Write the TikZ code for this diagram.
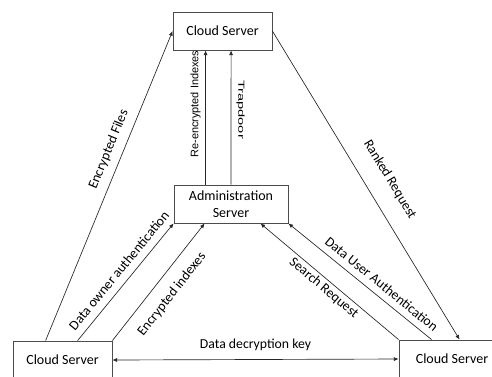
\documentclass[tikz,border=0pt]{standalone}
\usepackage{fontspec}
\setmainfont{Carlito}
\newfontfamily\arialfont{Liberation Sans}
\usetikzlibrary{arrows.meta,calc}
\begin{document}
\begin{tikzpicture}[x=0.75pt,y=-0.75pt,
  font=\fontsize{10.5}{12.5}\selectfont,
  box/.style={draw=black!70, line width=0.6pt, rectangle, inner sep=0pt,
    minimum height=28.5pt, align=center},
  flow/.style={draw=black!85, line width=0.5pt, -{Latex[length=3.5pt,width=3pt]}},
  lbl/.style={sloped, inner xsep=1pt, font=\fontsize{10.3}{12}\selectfont},
  vlbl/.style={inner sep=0pt, font=\arialfont\fontsize{8.2}{10}\selectfont}
]
\useasboundingbox (0,0) rectangle (492,376);
\clip (0,0) rectangle (492,376);

% servers
\node[box, minimum width=74.25pt] (top) at (222.5,31) {Cloud Server};
\node[box, minimum width=85.5pt] (adm) at (231,204) {Administration\\Server};
\node[box, minimum width=74.25pt] (bl) at (62.5,360) {Cloud Server};
\node[box, minimum width=79.5pt] (br) at (452,359) {Cloud Server};

% anchor points on the box edges
\coordinate (blA) at ($(bl.north west)+(33,0)$);
\coordinate (blB) at ($(bl.north west)+(65,0)$);
\coordinate (admI) at ($(adm.south west)+(31,0)$);
\coordinate (admS) at ($(adm.south east)+(-28,0)$);
\coordinate (brU) at ($(br.north west)+(33,0)$);
\coordinate (brR) at ($(br.north west)+(61,0)$);
\coordinate (admR) at ($(adm.north west)+(32,0)$);
\coordinate (topR) at ($(top.south west)+(33,0)$);
\coordinate (topT) at ($(top.south west)+(58.5,0)$);
\coordinate (admT) at (adm.north);

% connectors
\draw[flow] (blA) -- (top.west);
\draw[flow] (blB) -- (adm.south west);
\draw[flow] (bl.north east) -- (admI);
\draw[flow] (br.north west) -- (admS);
\draw[flow] (brU) -- (adm.south east);
\draw[flow] (top.east) -- (brR);
\draw[flow] (admR) -- (topR);
\draw[flow] (admT) -- (topT);
\draw[flow, {Latex[length=3.5pt,width=3pt]}-{Latex[length=3.5pt,width=3pt]}] (bl.east) -- (br.west);

% labels
\path (blA) -- (top.west) node[lbl, above, pos=0.6, inner ysep=6pt] {Encrypted Files};
\path (blB) -- (adm.south west) node[lbl, above, pos=0.53, inner ysep=5.5pt] {Data owner authentication};
\path (bl.north east) -- (admI) node[lbl, below, pos=0.49, inner ysep=9pt] {Encrypted indexes};
\path (admS) -- (br.north west) node[lbl, below, pos=0.5, inner ysep=2pt] {Search Request};
\path (adm.south east) -- (brU) node[lbl, above, pos=0.6, inner ysep=5pt] {Data User Authentication};
\path (top.east) -- (brR) node[lbl, above, pos=0.52, inner ysep=13pt] {Ranked Request};
\path (bl.east) -- (br.west) node[above, midway, inner sep=6.5pt, font=\fontsize{10.3}{12}\selectfont] {Data decryption key};
\path (admR) -- (topR) node[vlbl, pos=0.6, left=3.5pt, rotate=90, anchor=south] {Re-encrypted Indexes};
\path (topT) -- (admT) node[vlbl, pos=0.44, right=4pt, rotate=-90, anchor=south] {\scalebox{1.34}[0.8]{Trapdoor}};
\end{tikzpicture}
\end{document}
